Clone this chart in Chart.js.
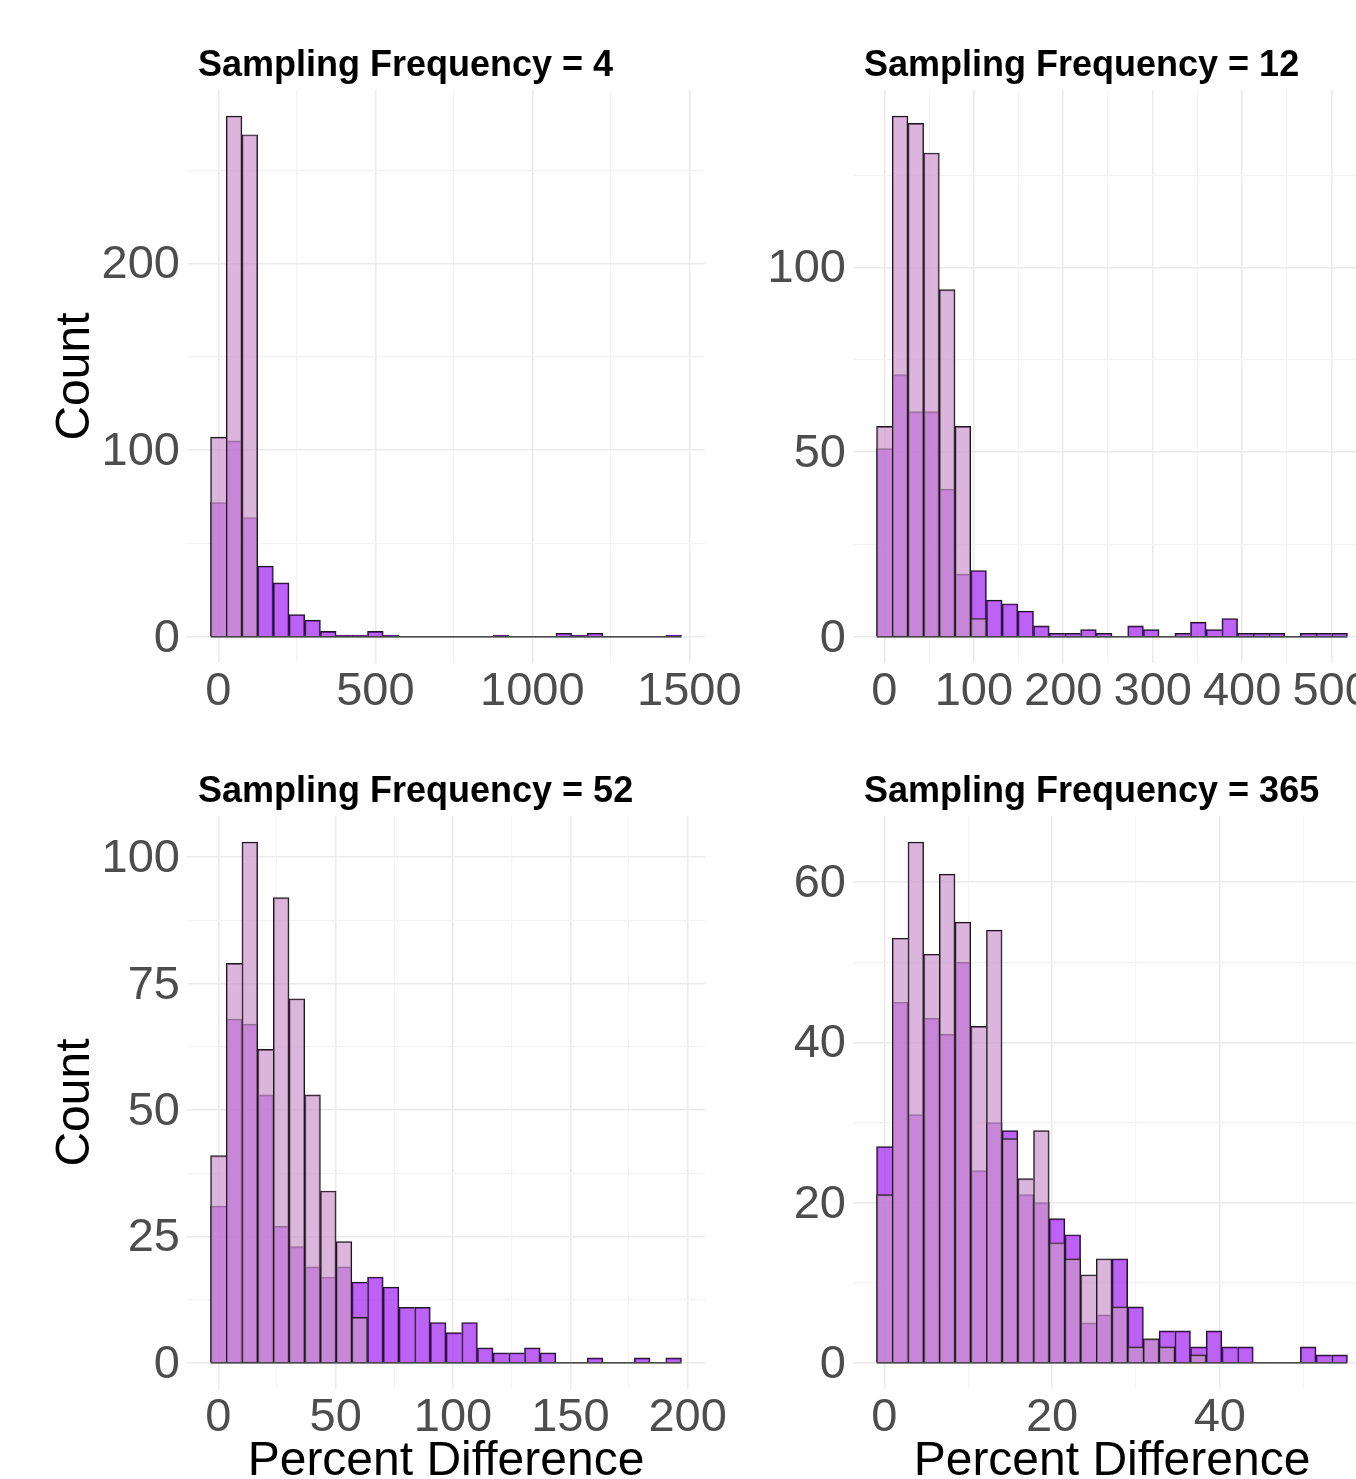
<!DOCTYPE html>
<html>
<head>
<meta charset="utf-8">
<title>Percent Difference histograms</title>
<script src="https://cdn.jsdelivr.net/npm/chart.js@4.4.1/dist/chart.umd.min.js"></script>
<style>
  html, body { margin: 0; padding: 0; background: #fff; overflow: hidden; }
  body { width: 1356px; height: 1479px; position: relative; }
  canvas { position: absolute; }
</style>
</head>
<body>
<canvas id="panel-4" width="760" height="790" style="left:0px;top:0px"></canvas>
<canvas id="panel-12" width="760" height="790" style="left:666px;top:0px"></canvas>
<canvas id="panel-52" width="760" height="790" style="left:0px;top:726px"></canvas>
<canvas id="panel-365" width="760" height="790" style="left:666px;top:726px"></canvas>
<script>
"use strict";

// bin width of each histogram (30 bins, first one centred on 0)
const binWidth4 = 50;
const binWidth12 = 17.55;
const binWidth52 = 6.69;
const binWidth365 = 1.872;

// counts per bin: plum = light series, purple = bright series
const plum4 = [107, 279, 269, 0, 0, 0, 0, 0, 0, 0, 0, 0, 0, 0, 0, 0, 0, 0, 0, 0, 0, 0, 0, 0, 0, 0, 0, 0, 0, 0];
const purple4 = [72, 105, 64, 38, 29, 12, 9, 3, 1, 1, 3, 1, 0, 0, 0, 0, 0, 0, 1, 0, 0, 0, 2, 1, 2, 0, 0, 0, 0, 1];

const plum12 = [57, 141, 139, 131, 94, 57, 5, 0, 0, 0, 0, 0, 0, 0, 0, 0, 0, 0, 0, 0, 0, 0, 0, 0, 0, 0, 0, 0, 0, 0];
const purple12 = [51, 71, 61, 61, 40, 17, 18, 10, 9, 7, 3, 1, 1, 2, 1, 0, 3, 2, 0, 1, 4, 2, 5, 1, 1, 1, 0, 1, 1, 1];

const plum52 = [41, 79, 103, 62, 92, 72, 53, 34, 24, 9, 0, 0, 0, 0, 0, 0, 0, 0, 0, 0, 0, 0, 0, 0, 0, 0, 0, 0, 0, 0];
const purple52 = [31, 68, 67, 53, 27, 23, 19, 17, 19, 16, 17, 15, 11, 11, 8, 6, 8, 3, 2, 2, 3, 2, 0, 0, 1, 0, 0, 1, 0, 1];

const plum365 = [21, 53, 65, 51, 61, 55, 42, 54, 28, 23, 29, 15, 13, 11, 13, 7, 2, 3, 2, 0, 1, 0, 0, 0, 0, 0, 0, 0, 0, 0];
const purple365 = [27, 45, 31, 43, 41, 50, 24, 30, 29, 21, 20, 18, 16, 5, 6, 13, 7, 3, 4, 4, 2, 4, 2, 2, 0, 0, 0, 2, 1, 1];

// labelled ticks
const xMajor4 = [0, 500, 1000, 1500];
const yMajor4 = [0, 100, 200];
const xMajor12 = [0, 100, 200, 300, 400, 500];
const yMajor12 = [0, 50, 100];
const xMajor52 = [0, 50, 100, 150, 200];
const yMajor52 = [0, 25, 50, 75, 100];
const xMajor365 = [0, 20, 40];
const yMajor365 = [0, 20, 40, 60];

const fontFamily = '"Liberation Sans", Arial, Helvetica, sans-serif';
const plumFill = 'rgba(205, 150, 205, 0.7)';
const purpleFill = 'rgba(160, 32, 240, 0.7)';
const edgeColor = '#1a1a1a';

const panelTitlePlugin = {
  id: 'panelTitle',
  afterDraw(chart, args, opts) {
    const { ctx, chartArea } = chart;
    ctx.save();
    ctx.font = `bold 36px ${fontFamily}`;
    ctx.fillStyle = '#000';
    ctx.textBaseline = 'alphabetic';
    ctx.textAlign = 'left';
    ctx.fillText(opts.text, chartArea.left + 11, chartArea.top - 14);
    ctx.restore();
  },
};

// majors plus the ggplot-style minor breaks halfway between them
const withMinor = (majors, min, max) => {
  const step = majors[1] - majors[0];
  const all = [majors[0] - step / 2];
  majors.forEach((v) => {
    all.push(v, v + step / 2);
  });
  return all.filter((v) => v >= min && v <= max);
};

// only draw a right edge where the neighbour bar does not cover it
const edgeWidth = (context) => {
  const data = context.dataset.data;
  const here = data[context.dataIndex]?.y ?? 0;
  const next = data[context.dataIndex + 1]?.y ?? 0;
  return { top: 1.2, left: 1.2, right: next < here ? 1.2 : 0, bottom: 0 };
};

const buildAxis = (majors, min, max, extra) => {
  const values = withMinor(majors, min, max);
  const isMajor = (v) => majors.includes(v);
  return Object.assign({
    type: 'linear',
    min,
    max,
    offset: false,
    afterBuildTicks: (scale) => {
      scale.ticks = values.map((value) => ({ value }));
    },
    grid: {
      offset: false,
      drawTicks: false,
      color: (c) => (isMajor(c.tick.value) ? '#EBEBEB' : '#F3F3F3'),
      lineWidth: (c) => (isMajor(c.tick.value) ? 1.6 : 1.2),
    },
    border: { display: false },
    ticks: {
      autoSkip: false,
      maxRotation: 0,
      minRotation: 0,
      color: '#4D4D4D',
      font: { family: fontFamily, size: 47 },
      callback: (value) => (isMajor(value) ? String(value) : ''),
    },
  }, extra);
};

const createPanel = (panel) => {
  const canvas = document.getElementById(panel.id);
  const w = panel.binWidth;
  const centers = panel.purple.map((_, i) => i * w);
  const toPoints = (counts) => counts.map((y, i) => ({ x: centers[i], y }));
  const peak = Math.max(...panel.plum, ...panel.purple);
  const span = w * centers.length;
  const left = centers[0] - w / 2;
  const right = centers[centers.length - 1] + w / 2;
  const xMin = left - 0.05 * span;
  const xMax = right + 0.05 * span;

  const xAxis = buildAxis(panel.xMajor, xMin, xMax, {
    position: 'bottom',
    title: {
      display: panel.showXTitle,
      text: 'Percent Difference',
      color: '#000',
      font: { family: fontFamily, size: 48 },
      padding: { top: 0, bottom: 8 },
    },
    afterFit: (scale) => {
      scale.height = 110;
      scale.paddingLeft = 0;
      scale.paddingRight = 0;
    },
  });
  xAxis.ticks.padding = 1;

  const yAxis = buildAxis(panel.yMajor, -0.05 * peak, 1.05 * peak, {
    position: 'left',
    title: {
      display: panel.showYTitle,
      text: 'Count',
      color: '#000',
      font: { family: fontFamily, size: 48 },
      padding: { top: 47, bottom: 0 },
    },
    afterFit: (scale) => {
      scale.width = 187;
      scale.paddingTop = 0;
      scale.paddingBottom = 0;
    },
  });
  yAxis.ticks.padding = 7;
  yAxis.ticks.labelOffset = 2;

  return new Chart(canvas, {
    type: 'bar',
    data: {
      datasets: [
        {
          type: 'line',
          data: [{ x: left, y: 0 }, { x: right, y: 0 }],
          borderColor: edgeColor,
          borderWidth: 1.2,
          pointRadius: 0,
          order: 0,
        },
        {
          label: 'plum',
          data: toPoints(panel.plum),
          backgroundColor: plumFill,
          borderColor: edgeColor,
          borderWidth: edgeWidth,
          grouped: false,
          categoryPercentage: 1,
          barPercentage: 1,
          order: 1,
        },
        {
          label: 'purple',
          data: toPoints(panel.purple),
          backgroundColor: purpleFill,
          borderColor: edgeColor,
          borderWidth: edgeWidth,
          grouped: false,
          categoryPercentage: 1,
          barPercentage: 1,
          order: 2,
        },
      ],
    },
    options: {
      responsive: false,
      animation: false,
      events: [],
      layout: { padding: { left: 0, top: 90, right: 55, bottom: 17 } },
      scales: { x: xAxis, y: yAxis },
      plugins: {
        legend: { display: false },
        tooltip: { enabled: false },
        panelTitle: { text: panel.title },
      },
    },
    plugins: [panelTitlePlugin],
  });
};

[
  { id: 'panel-4', title: 'Sampling Frequency = 4', binWidth: binWidth4, plum: plum4, purple: purple4,
    xMajor: xMajor4, yMajor: yMajor4, showXTitle: false, showYTitle: true },
  { id: 'panel-12', title: 'Sampling Frequency = 12', binWidth: binWidth12, plum: plum12, purple: purple12,
    xMajor: xMajor12, yMajor: yMajor12, showXTitle: false, showYTitle: false },
  { id: 'panel-52', title: 'Sampling Frequency = 52', binWidth: binWidth52, plum: plum52, purple: purple52,
    xMajor: xMajor52, yMajor: yMajor52, showXTitle: true, showYTitle: true },
  { id: 'panel-365', title: 'Sampling Frequency = 365', binWidth: binWidth365, plum: plum365, purple: purple365,
    xMajor: xMajor365, yMajor: yMajor365, showXTitle: true, showYTitle: false },
].forEach(createPanel);
</script>
</body>
</html>
